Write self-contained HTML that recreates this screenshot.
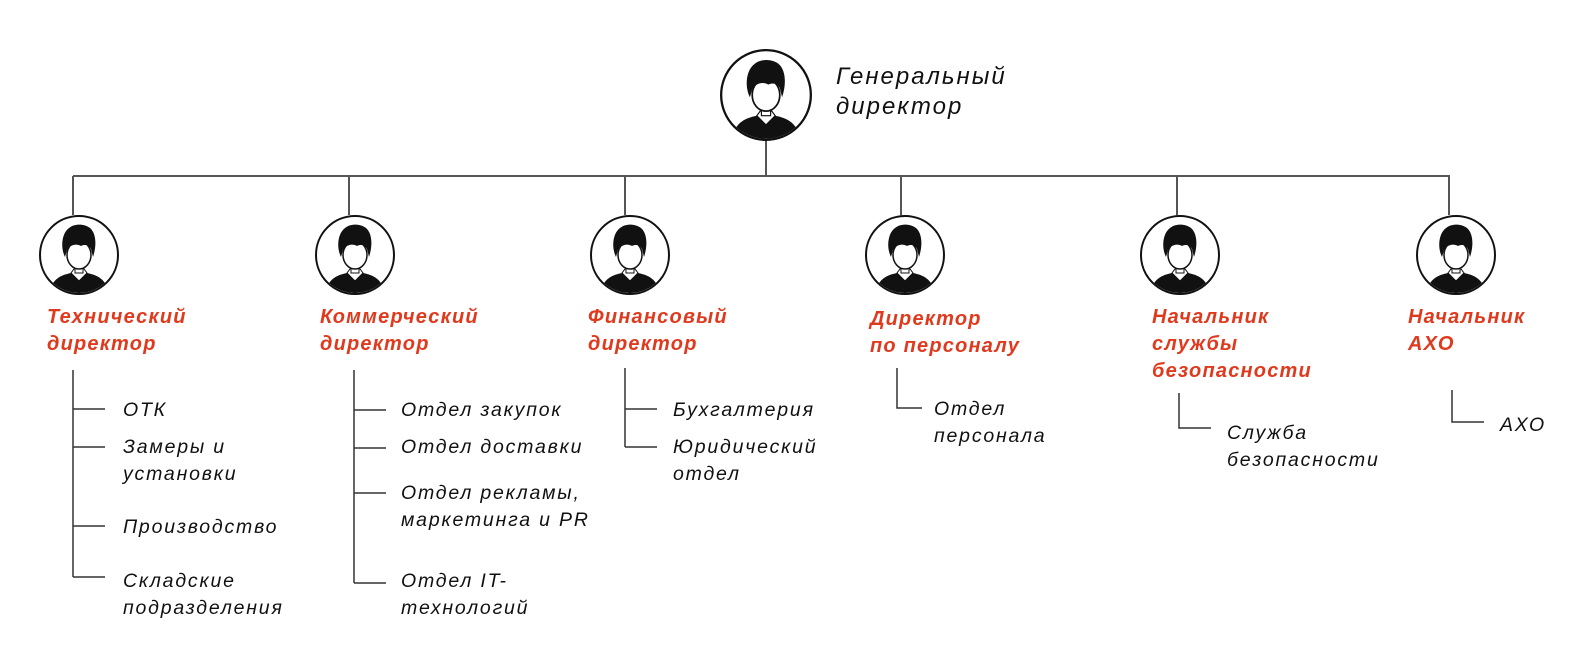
<!DOCTYPE html>
<html><head><meta charset="utf-8"><style>
html,body{margin:0;padding:0;background:#fff}
body{width:1579px;height:670px;position:relative;overflow:hidden;font-family:"Liberation Sans",sans-serif}
.t{position:absolute;font-style:italic;font-size:19.5px;line-height:27px;color:#111;letter-spacing:1.8px;white-space:nowrap}
.r{position:absolute;font-style:italic;font-weight:bold;font-size:20px;line-height:27px;color:#e03a1e;letter-spacing:1.2px;white-space:nowrap}
</style></head><body>
<svg width="1579" height="670" style="position:absolute;left:0;top:0">
<defs>
<clipPath id="cc"><circle cx="0" cy="0" r="38"/></clipPath>
<g id="av">
<circle cx="0" cy="0" r="39" fill="#fff" stroke="#111" stroke-width="2"/>
<g clip-path="url(#cc)">
<path d="M-30,40 C-28,24 -18,20 -8,18 L8,18 C18,20 28,24 30,40 Z" fill="#111"/>
<path d="M-8,18 L0,26 L8,18 L5,14 L-5,14 Z" fill="#fff" stroke="#111" stroke-width="1"/>
<rect x="-4" y="8" width="8" height="10" fill="#fff" stroke="#111" stroke-width="1"/>
<ellipse cx="0" cy="0" rx="12" ry="14" fill="#fff" stroke="#111" stroke-width="1.5"/>
<path d="M-14,2 C-19,-8 -17,-22 -10,-27 C-4,-32 6,-31 11,-27 C17,-22 18,-10 14,2 L12,-6 C10,-10 6,-11 2,-9 C-3,-12 -9,-10 -12,-5 Z" fill="#111"/>
</g>
</g>
</defs>
<g stroke="#555" stroke-width="2" fill="none">
<line x1="766" y1="140" x2="766" y2="176"/>
<line x1="73" y1="176" x2="1450" y2="176"/>
<line x1="73" y1="176" x2="73" y2="215"/>
<line x1="349" y1="176" x2="349" y2="215"/>
<line x1="625" y1="176" x2="625" y2="215"/>
<line x1="901" y1="176" x2="901" y2="215"/>
<line x1="1177" y1="176" x2="1177" y2="215"/>
<line x1="1449" y1="176" x2="1449" y2="215"/>
</g>
<g stroke="#333" stroke-width="1.5" fill="none">
<path d="M73,370 V577 M73,409 H105 M73,447 H105 M73,526 H105 M73,577 H105"/>
<path d="M354,370 V583 M354,410 H386 M354,448 H386 M354,493 H386 M354,583 H386"/>
<path d="M625,368 V447 M625,409 H657 M625,447 H657"/>
<path d="M897,368 V408 H922"/>
<path d="M1179,393 V428 H1211"/>
<path d="M1452,390 V422 H1484"/>
</g>
<use href="#av" transform="translate(766,95) scale(1.15)"/>
<use href="#av" x="79" y="255"/>
<use href="#av" x="355" y="255"/>
<use href="#av" x="630" y="255"/>
<use href="#av" x="905" y="255"/>
<use href="#av" x="1180" y="255"/>
<use href="#av" x="1456" y="255"/>
</svg>
<div class="t" style="left:836px;top:62px;font-size:24px;line-height:30px;letter-spacing:2px">Генеральный<br>директор</div>

<div class="r" style="left:47px;top:304px">Технический<br>директор</div>
<div class="r" style="left:320px;top:304px">Коммерческий<br>директор</div>
<div class="r" style="left:588px;top:304px">Финансовый<br>директор</div>
<div class="r" style="left:870px;top:306px">Директор<br>по персоналу</div>
<div class="r" style="left:1152px;top:304px">Начальник<br>службы<br>безопасности</div>
<div class="r" style="left:1408px;top:304px">Начальник<br>АХО</div>

<div class="t" style="left:123px;top:397px">ОТК</div>
<div class="t" style="left:123px;top:434px">Замеры и<br>установки</div>
<div class="t" style="left:123px;top:514px">Производство</div>
<div class="t" style="left:123px;top:568px">Складские<br>подразделения</div>

<div class="t" style="left:401px;top:397px">Отдел закупок</div>
<div class="t" style="left:401px;top:434px">Отдел доставки</div>
<div class="t" style="left:401px;top:480px">Отдел рекламы,<br>маркетинга и PR</div>
<div class="t" style="left:401px;top:568px">Отдел IT-<br>технологий</div>

<div class="t" style="left:673px;top:397px">Бухгалтерия</div>
<div class="t" style="left:673px;top:434px">Юридический<br>отдел</div>

<div class="t" style="left:934px;top:396px">Отдел<br>персонала</div>
<div class="t" style="left:1227px;top:420px">Служба<br>безопасности</div>
<div class="t" style="left:1500px;top:412px">АХО</div>
</body></html>
